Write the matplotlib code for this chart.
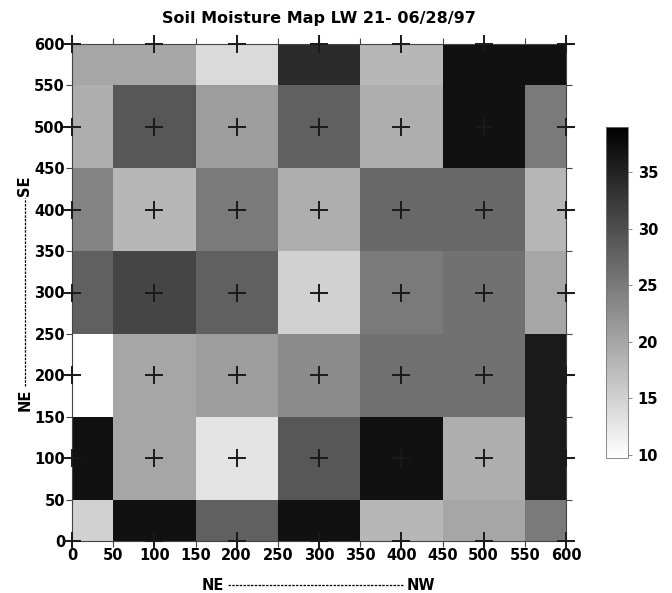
import numpy as np
import matplotlib
matplotlib.use("Agg")
import matplotlib.pyplot as plt
from matplotlib.lines import Line2D

# grid nodes (m) and soil moisture (%) at each node, rows from y=0 upwards
x_nodes = [0, 100, 200, 300, 400, 500, 600]
y_nodes = [0, 100, 200, 300, 400, 500, 600]
moisture = [
    [15, 37, 28, 37, 18, 20, 25],   # y = 0
    [37, 20, 13, 29, 37, 19, 36],   # y = 100
    [9.5, 20, 21, 23, 26, 26, 36],  # y = 200
    [28, 31, 28, 15, 25, 26, 20],   # y = 300
    [24, 18, 25, 19, 27, 27, 18],   # y = 400
    [19, 29, 21, 28, 19, 37, 25],   # y = 500
    [20, 20, 14, 34, 18, 37, 37],   # y = 600
]
tick_vals = list(range(0, 601, 50))
cbar_ticks = [10, 15, 20, 25, 30, 35]

title = "Soil Moisture Map LW 21- 06/28/97"

W, H = 672, 593
FONT = ["Liberation Sans Narrow", "DejaVu Sans"]


def edges(nodes):
    """cell edges halfway between nodes, clipped to the outer nodes"""
    n = np.asarray(nodes, dtype=float)
    mid = (n[:-1] + n[1:]) / 2
    return np.concatenate([[n[0]], mid, [n[-1]]])


def px(x, y):
    return x / W, 1 - y / H


fig = plt.figure(figsize=(W / 100, H / 100), dpi=100)
ax = fig.add_axes([72 / W, 1 - 541 / H, (566 - 72) / W, (541 - 44) / H])

mesh = ax.pcolormesh(edges(x_nodes), edges(y_nodes), np.array(moisture),
                     cmap="gray_r", vmin=9.7, vmax=39, shading="flat")

# sampling points
gx, gy = np.meshgrid(x_nodes, y_nodes)
ax.scatter(gx.ravel(), gy.ravel(), marker="+", s=160, lw=1.4,
           color="#1a1a1a", clip_on=False, zorder=5)

ax.set_xlim(0, 600)
ax.set_ylim(0, 600)
ax.set_xticks(tick_vals)
ax.set_yticks(tick_vals)
ax.tick_params(direction="out", length=4, width=0.8, color="#444444",
               top=True, right=True, pad=1, labelsize=10.5)
for lab in ax.get_xticklabels() + ax.get_yticklabels():
    lab.set_fontweight("bold")
    lab.set_family(FONT)
for sp in ax.spines.values():
    sp.set_linewidth(0.8)
    sp.set_color("#444444")

fig.text(*px(319, 18), title, ha="center", va="center",
         fontsize=11.5, fontweight="bold", family=FONT)

# axis labels: NE ---- NW  and  NE ---- SE
fig.text(*px(213, 585), "NE", ha="center", va="center",
         fontsize=10.5, fontweight="bold", family=FONT)
fig.text(*px(421, 585), "NW", ha="center", va="center",
         fontsize=10.5, fontweight="bold", family=FONT)
fig.add_artist(Line2D([228 / W, 404 / W], [1 - 585 / H] * 2, lw=0.9,
                      ls=(0, (2, 1)), color="black"))
fig.text(*px(25, 400), "NE", ha="center", va="center", rotation=90,
         fontsize=10.5, fontweight="bold", family=FONT)
fig.text(*px(25, 186), "SE", ha="center", va="center", rotation=90,
         fontsize=10.5, fontweight="bold", family=FONT)
fig.add_artist(Line2D([25 / W] * 2, [1 - 386 / H, 1 - 198 / H], lw=0.9,
                      ls=(0, (2, 1)), color="black"))

# colour bar
cax = fig.add_axes([606 / W, 1 - 458 / H, 22 / W, (458 - 127) / H])
cb = fig.colorbar(mesh, cax=cax, ticks=cbar_ticks)
cb.outline.set_linewidth(0.6)
cb.outline.set_edgecolor("#777777")
cax.tick_params(length=3, width=0.6, color="#777777", labelsize=10.5, pad=4)
for lab in cax.get_yticklabels():
    lab.set_fontweight("bold")
    lab.set_family(FONT)

fig.savefig("out.png", dpi=100)
